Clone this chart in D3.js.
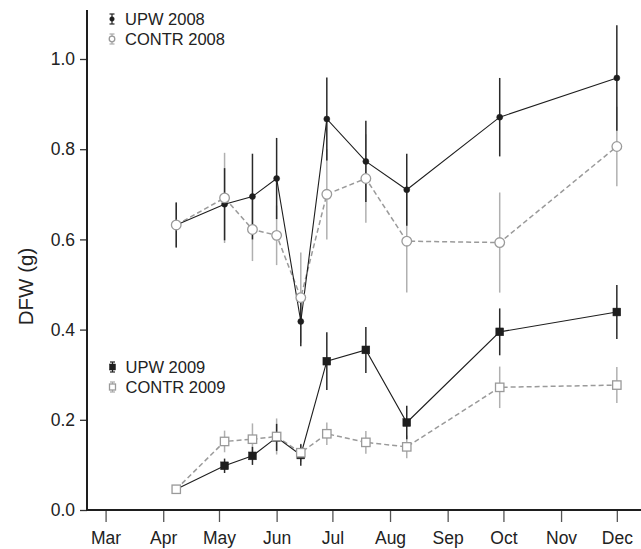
<!DOCTYPE html>
<html>
<head>
<meta charset="utf-8">
<script src="https://cdn.jsdelivr.net/npm/d3@7"></script>
<style>
  html, body { margin: 0; padding: 0; background: #fff; }
  svg { display: block; font-family: "Liberation Sans", Arial, Helvetica, sans-serif; }
</style>
</head>
<body>
<svg id="chart" width="641" height="549"></svg>
<script>
// ---- data ----
const sampleDates = ["2009-04-08", "2009-05-04", "2009-05-19", "2009-06-01", "2009-06-14",
                     "2009-06-28", "2009-07-19", "2009-08-10", "2009-09-29", "2009-12-01"];
const upw2008      = [0.632, 0.678, 0.695, 0.735, 0.418, 0.867, 0.773, 0.710, 0.871, 0.958];
const upw2008Err   = [0.050, 0.080, 0.095, 0.090, 0.055, 0.092, 0.090, 0.080, 0.087, 0.117];
const contr2008    = [0.632, 0.692, 0.622, 0.609, 0.471, 0.700, 0.735, 0.596, 0.593, 0.806];
const contr2008Err = [0.050, 0.100, 0.070, 0.066, 0.100, 0.100, 0.098, 0.114, 0.111, 0.088];
const upw2009      = [0.046, 0.098, 0.120, 0.161, 0.122, 0.330, 0.355, 0.194, 0.395, 0.439];
const upw2009Err   = [0.000, 0.016, 0.020, 0.030, 0.024, 0.064, 0.051, 0.037, 0.052, 0.060];
const contr2009    = [0.046, 0.152, 0.157, 0.163, 0.127, 0.169, 0.150, 0.140, 0.272, 0.277];
const contr2009Err = [0.004, 0.024, 0.035, 0.040, 0.020, 0.025, 0.025, 0.025, 0.046, 0.040];
const monthLabels  = ["Mar", "Apr", "May", "Jun", "Jul", "Aug", "Sep", "Oct", "Nov", "Dec"];
const yTicks       = [0.0, 0.2, 0.4, 0.6, 0.8, 1.0];
const seriesNames  = ["UPW 2008", "CONTR 2008", "UPW 2009", "CONTR 2009"];

(function () {
// ---- layout ----
const svg = d3.select("#chart");
const mLeft = 87, mRight = 641, mTop = 10, mBottom = 510;
const parse = d3.timeParse("%Y-%m-%d");
const dates = sampleDates.map(parse);

const x = d3.scaleTime()
  .domain([parse("2009-02-19"), parse("2009-12-14")])
  .range([mLeft, mRight]);
const y = d3.scaleLinear().domain([0, 1]).range([mBottom, 59]);

const dark = "#1e1e1e", grey = "#9a9a9a";

// axes
const monthTicks = monthLabels.map((m, i) => new Date(2009, 2 + i, 1));
const xAxis = d3.axisBottom(x).tickValues(monthTicks)
  .tickFormat((d, i) => monthLabels[i]).tickSize(12).tickPadding(10);
const gx = svg.append("g").attr("transform", `translate(0,${mBottom})`).call(xAxis);
gx.select(".domain").remove();
gx.selectAll(".tick line").attr("stroke", "#555").attr("stroke-width", 1.3);
gx.selectAll(".tick text").attr("font-size", 17.5).attr("fill", "#222")
  .attr("font-family", "Liberation Sans, Arial, sans-serif");
svg.append("line").attr("x1", mLeft).attr("x2", mRight).attr("y1", mBottom).attr("y2", mBottom)
  .attr("stroke", dark).attr("stroke-width", 2);

const yAxis = d3.axisLeft(y).tickValues(yTicks).tickFormat(d3.format(".1f")).tickSize(7).tickPadding(5);
const gy = svg.append("g").attr("transform", `translate(${mLeft},0)`).call(yAxis);
gy.select(".domain").remove();
gy.selectAll(".tick line").attr("stroke", "#333").attr("stroke-width", 1.3);
gy.selectAll(".tick text").attr("font-size", 17.5).attr("fill", "#222")
  .attr("font-family", "Liberation Sans, Arial, sans-serif");
svg.append("line").attr("x1", mLeft).attr("x2", mLeft).attr("y1", mTop).attr("y2", mBottom + 1)
  .attr("stroke", dark).attr("stroke-width", 2);

svg.append("text")
  .attr("transform", `translate(33,${(y(0) + y(1)) / 2 + 2}) rotate(-90)`)
  .attr("text-anchor", "middle").attr("font-size", 20.5).attr("fill", "#222")
  .text("DFW (g)");

// series
const series = [
  { name: seriesNames[0], vals: upw2008, err: upw2008Err, color: dark, dash: null, lw: 1.1, shape: "circle", filled: true, size: 3 },
  { name: seriesNames[2], vals: upw2009, err: upw2009Err, color: dark, dash: null, lw: 1.1, shape: "square", filled: true, size: 3.9 },
  { name: seriesNames[1], vals: contr2008, err: contr2008Err, color: grey, dash: "5,3", lw: 1.5, shape: "circle", filled: false, size: 4.8 },
  { name: seriesNames[3], vals: contr2009, err: contr2009Err, color: grey, dash: "5,3", lw: 1.5, shape: "square", filled: false, size: 4.2 }
];

// error bars first (control behind)
[...series].reverse().forEach(s => {
  svg.append("g").selectAll("line").data(s.vals).join("line")
    .attr("x1", (d, i) => x(dates[i])).attr("x2", (d, i) => x(dates[i]))
    .attr("y1", (d, i) => y(d - s.err[i])).attr("y2", (d, i) => y(d + s.err[i]))
    .attr("stroke", s.filled ? "#2a2a2a" : "#b0b0b0").attr("stroke-width", 1.5);
});

// lines
[...series].reverse().forEach(s => {
  const line = d3.line().x((d, i) => x(dates[i])).y(d => y(d));
  svg.append("path").datum(s.vals).attr("d", line)
    .attr("fill", "none").attr("stroke", s.color).attr("stroke-width", s.lw)
    .attr("stroke-dasharray", s.dash);
});

function drawMarker(g, shape, cx, cy, size, filled, color) {
  if (shape === "circle") {
    g.append("circle").attr("cx", cx).attr("cy", cy).attr("r", size)
      .attr("fill", filled ? color : "#fff").attr("stroke", color).attr("stroke-width", filled ? 0.5 : 1.3);
  } else {
    g.append("rect").attr("x", cx - size).attr("y", cy - size).attr("width", 2 * size).attr("height", 2 * size)
      .attr("fill", filled ? color : "#fff").attr("stroke", color).attr("stroke-width", filled ? 0.5 : 1.3);
  }
}

// markers: UPW first, control on top
series.forEach(s => {
  const g = svg.append("g");
  s.vals.forEach((v, i) => drawMarker(g, s.shape, x(dates[i]), y(v), s.size, s.filled, s.color));
});

// legends
function legendItem(sname, lx, ly) {
  const s = series.find(q => q.name === sname);
  const g = svg.append("g");
  const bc = s.filled ? "#222" : "#aaa";
  g.append("line").attr("x1", lx).attr("x2", lx).attr("y1", ly - 5).attr("y2", ly + 5).attr("stroke", bc).attr("stroke-width", 1.2);
  [ly - 5, ly + 5].forEach(yy => g.append("line").attr("x1", lx - 2.5).attr("x2", lx + 2.5).attr("y1", yy).attr("y2", yy).attr("stroke", bc).attr("stroke-width", 1.2));
  drawMarker(g, s.shape, lx, ly, s.shape === "circle" ? (s.filled ? 2.3 : 2.8) : 3, s.filled, s.color);
  g.append("text").attr("x", lx + 13).attr("y", ly + 6).attr("font-size", 16.5).attr("fill", "#222").text(sname);
}
legendItem(seriesNames[0], 112, 19);
legendItem(seriesNames[1], 112, 39);
legendItem(seriesNames[2], 112.5, 367);
legendItem(seriesNames[3], 112.5, 387);
})();
</script>
</body>
</html>
